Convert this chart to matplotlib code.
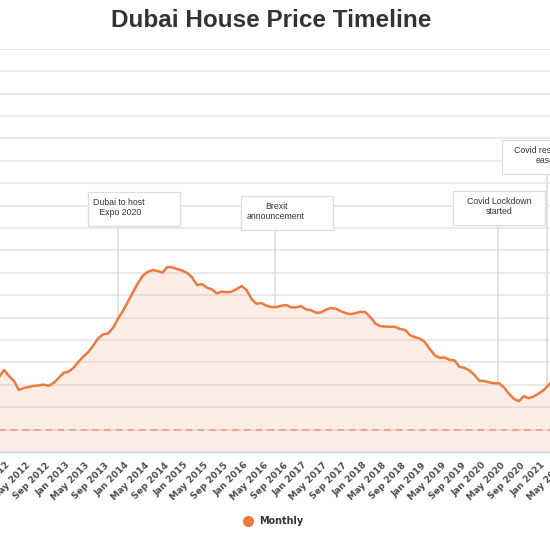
import numpy as np
import pandas as pd
import matplotlib
matplotlib.use('Agg')
import matplotlib.pyplot as plt
from matplotlib.patches import Rectangle
from matplotlib.lines import Line2D

# monthly price index (no y labels are shown), Nov 2011 .. Mar 2021
start_month = -2  # months counted from Jan 2012
price_index = [
    33.5, 36.6, 33.9, 31.7, 27.7, 28.6, 29.0, 29.5, 29.7, 30.1,   # Nov11 - Aug12
    29.5, 30.8, 33.0, 35.3, 35.9, 37.5, 40.2, 42.6, 44.6, 47.5,   # Sep12 - Jun13
    50.7, 52.5, 52.9, 55.4, 59.4, 62.9, 67.0, 71.2, 75.2, 78.6,   # Jul13 - Apr14
    80.4, 81.2, 80.8, 80.1, 82.6, 82.4, 81.7, 81.0, 79.9, 77.9,   # May14 - Feb15
    74.5, 75.0, 73.3, 72.6, 70.8, 71.6, 71.3, 71.6, 72.8, 74.1,   # Mar15 - Dec15
    72.3, 68.3, 66.2, 66.5, 65.3, 64.7, 64.7, 65.3, 65.6, 64.6,   # Jan16 - Oct16
    64.6, 65.1, 63.7, 63.3, 62.2, 62.3, 63.5, 64.3, 64.0, 62.9,   # Nov16 - Aug17
    62.0, 61.5, 62.0, 62.6, 62.4, 60.2, 57.4, 56.2, 56.0, 55.9,   # Sep17 - Jun18
    55.9, 54.9, 54.5, 52.2, 51.3, 50.6, 49.1, 46.0, 43.2, 42.0,   # Jul18 - Apr19
    42.2, 41.1, 40.9, 38.0, 37.6, 36.4, 34.5, 31.8, 31.7, 31.1,   # May19 - Feb20
    30.7, 30.7, 28.8, 26.0, 23.7, 22.7, 24.9, 24.0, 24.8, 26.1,   # Mar20 - Dec20
    27.6, 29.9, 32.1,                                             # Jan21 - Mar21
]
dashed_level = 10

tick_labels = list(pd.date_range('2012-01-01', periods=29, freq='4MS').strftime('%b %Y'))

event_labels = ['Dubai to host\n Expo 2020', 'Brexit\nannouncement',
                'Covid Lockdown\nstarted', 'Covid restrictions\neased']
event_month = [22.0, 53.75, 98.75, 108.7]

# where the label boxes sit
box_top = [116.1, 114.3, 116.5, 139.3]
box_shift = [-6.0, -6.9, -9.05, -9.1]
box_w, box_h = 18.6, 15.2

line_col = '#eb7b3e'
months = np.arange(len(price_index)) + start_month

fig = plt.figure(figsize=(5.5, 5.5), dpi=100)
# chart is wider than the picture, it gets cut on both sides
ax = fig.add_axes([-60 / 550, 1 - 452 / 550, 670 / 550, (452 - 48.8) / 550])
ax.set_xlim((-60 - 9) / 4.95, (610 - 9) / 4.95)
ax.set_ylim(0, 180)

ax.fill_between(months, price_index, 0, color=line_col, alpha=0.12, lw=0, zorder=1)
ax.plot(months, price_index, color=line_col, lw=1.8, zorder=4, solid_capstyle='round')
ax.axhline(dashed_level, color='#ee9a86', lw=1.2, dashes=(4, 3), zorder=3)

ax.set_yticks(np.arange(0, 181, 10))
ax.grid(axis='y', color='#e6e6e6', lw=1.2)
ax.set_axisbelow(True)
ax.tick_params(axis='y', left=False, labelleft=False)
for s in ['top', 'left', 'right']:
    ax.spines[s].set_visible(False)
ax.spines['bottom'].set_color('#ccd6eb')
ax.spines['bottom'].set_linewidth(1)

ax.set_xticks(np.arange(0, 4 * len(tick_labels), 4))
ax.set_xticklabels(tick_labels, rotation=45, ha='right', va='center', rotation_mode='anchor',
                   fontsize=6.6, fontweight='bold', color='#4d4d4d')
ax.tick_params(axis='x', length=0, pad=8.5)

for lab, xm, top, shift in zip(event_labels, event_month, box_top, box_shift):
    y_curve = np.interp(xm, months, price_index)
    bottom = top - box_h
    ax.plot([xm, xm], [bottom, y_curve], color='#dadada', lw=1.1, zorder=2)
    ax.add_patch(Rectangle((xm + shift, bottom), box_w, box_h, facecolor='white',
                           edgecolor='#dddddd', lw=0.9, zorder=5))
    ax.text(xm + 0.2, bottom + box_h / 2 + 0.6, lab, ha='center', va='center',
            multialignment='center', fontsize=6.3, color='#333333', linespacing=1.1,
            family='Liberation Sans', zorder=6)

fig.text(271 / 550, 1 - 27 / 550, 'Dubai House Price Timeline', ha='center', va='baseline',
         fontsize=17.5, fontweight='bold', color='#333333', family='Liberation Sans')

handle = Line2D([], [], marker='o', color=line_col, lw=0, markersize=7)
fig.legend([handle], ['Monthly'], loc='center', bbox_to_anchor=(273 / 550, 1 - 521 / 550),
           frameon=False, prop=dict(weight='bold', size=6.9), labelcolor='#333333',
           handletextpad=0.7, handlelength=1.0)

fig.savefig('out.png', dpi=100)
